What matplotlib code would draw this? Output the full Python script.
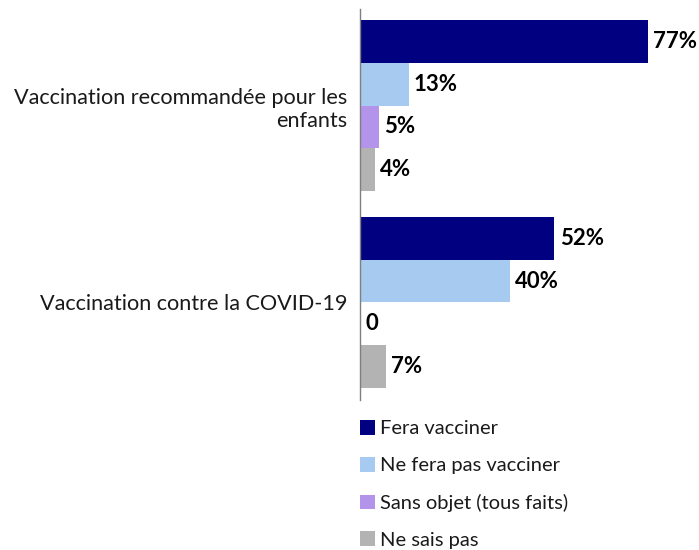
import matplotlib
matplotlib.use("Agg")
import matplotlib.pyplot as plt
import numpy as np

plt.rcParams['font.family'] = ['Lato', 'DejaVu Sans']

categories = ["Vaccination recommandée pour les\nenfants", "Vaccination contre la COVID-19"]
series_names = ["Fera vacciner", "Ne fera pas vacciner", "Sans objet (tous faits)", "Ne sais pas"]
values = {
    "Fera vacciner": [77, 52],
    "Ne fera pas vacciner": [13, 40],
    "Sans objet (tous faits)": [5, 0],
    "Ne sais pas": [4, 7],
}
value_labels = {
    "Fera vacciner": ["77%", "52%"],
    "Ne fera pas vacciner": ["13%", "40%"],
    "Sans objet (tous faits)": ["5%", "0"],
    "Ne sais pas": ["4%", "7%"],
}
colors = ["#000080", "#A6CAF0", "#B394EA", "#B3B3B3"]

fig = plt.figure(figsize=(6.99, 5.5), dpi=100)
ax = fig.add_axes([360/699, 1-400/550, (689-360)/699, 391/550])

bar_h = 0.2167
y = np.arange(len(categories))
handles = []
for i, name in enumerate(series_names):
    pos = y - 1.5*bar_h + i*bar_h
    b = ax.barh(pos, values[name], height=bar_h, color=colors[i], label=name)
    handles.append(b)
    for p, v, lab in zip(pos, values[name], value_labels[name]):
        ax.text(v + 1.4, p, lab, va='center', ha='left', fontsize=16, fontweight='bold', color='#000000')

ax.set_xlim(0, 88)
ax.set_ylim(1.495, -0.49)
ax.set_yticks(y)
ax.set_yticklabels(categories, fontsize=15.6, color='#1a1a1a', ha='right')
ax.tick_params(axis='y', length=0, pad=9)
ax.set_xticks([])
for s in ['top', 'right', 'bottom']:
    ax.spines[s].set_visible(False)
ax.spines['left'].set_color('#7f7f7f')
ax.spines['left'].set_linewidth(1.0)

fig.legend(handles=handles, labels=series_names, loc='upper left',
           bbox_to_anchor=(360/699, 1-420/550), frameon=False, fontsize=14.5,
           handlelength=0.75, handleheight=0.75, handletextpad=0.25,
           labelspacing=0.97, borderpad=0, borderaxespad=0, labelcolor='#1a1a1a')

fig.savefig("out.png", dpi=100)
